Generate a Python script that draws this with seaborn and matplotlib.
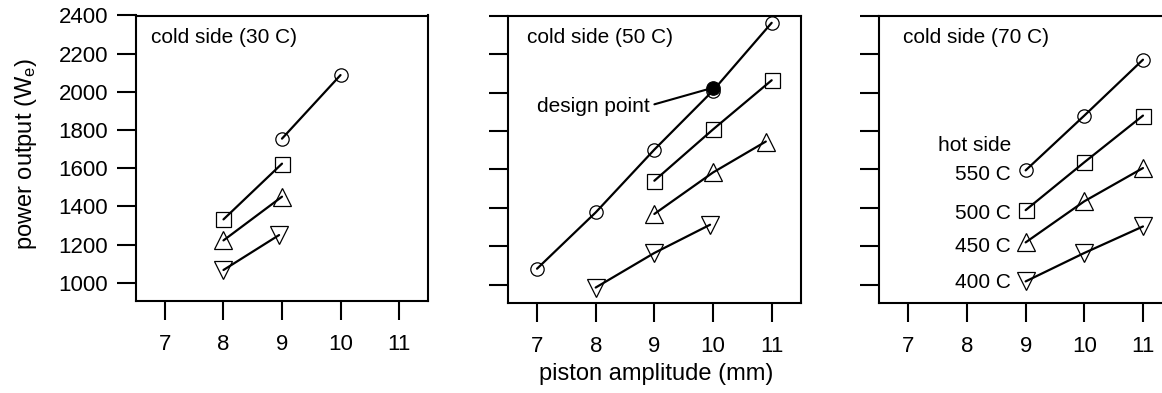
import matplotlib
matplotlib.use("Agg")
import matplotlib.pyplot as plt
import seaborn as sns
import pandas as pd

# ---------------- data ----------------
panel_titles = ["cold side (30 C)", "cold side (50 C)", "cold side (70 C)"]
hot_labels = ["550 C", "500 C", "450 C", "400 C"]
x_ticks = [7, 8, 9, 10, 11]
y_ticks = [1000, 1200, 1400, 1600, 1800, 2000, 2200, 2400]

# cold side 30 C
c30_550_x = [9, 10];        c30_550_y = [1755, 2088]
c30_500_x = [8, 9];         c30_500_y = [1332, 1624]
c30_450_x = [8, 9];         c30_450_y = [1222, 1451]
c30_400_x = [8, 8.95];      c30_400_y = [1067, 1250]

# cold side 50 C
c50_550_x = [7, 8, 9, 10, 11];  c50_550_y = [1083, 1376, 1703, 2010, 2363]
c50_500_x = [9, 10, 11];        c50_500_y = [1541, 1808, 2064]
c50_450_x = [9, 10, 10.9];      c50_450_y = [1368, 1584, 1745]
c50_400_x = [8, 9, 9.95];       c50_400_y = [985, 1165, 1312]
design_x = [10];                design_y = [2025]

# cold side 70 C
c70_550_x = [9, 10, 11];  c70_550_y = [1595, 1880, 2171]
c70_500_x = [9, 10, 11];  c70_500_y = [1388, 1637, 1880]
c70_450_x = [9, 10, 11];  c70_450_y = [1220, 1434, 1607]
c70_400_x = [9, 10, 11];  c70_400_y = [1017, 1165, 1303]

panels = [
    [(c30_550_x, c30_550_y), (c30_500_x, c30_500_y), (c30_450_x, c30_450_y), (c30_400_x, c30_400_y)],
    [(c50_550_x, c50_550_y), (c50_500_x, c50_500_y), (c50_450_x, c50_450_y), (c50_400_x, c50_400_y)],
    [(c70_550_x, c70_550_y), (c70_500_x, c70_500_y), (c70_450_x, c70_450_y), (c70_400_x, c70_400_y)],
]

# ---------------- style ----------------
sns.set_theme(style="ticks")
plt.rcParams["font.family"] = ["Liberation Sans", "DejaVu Sans"]
plt.rcParams["mathtext.fontset"] = "custom"
plt.rcParams["mathtext.rm"] = "Liberation Sans"
plt.rcParams["mathtext.it"] = "Liberation Sans:italic"

marker_styles = ["o", "s", "^", "v"]
marker_sizes = [9.6, 10.8, 12.5, 12.5]

fig = plt.figure(figsize=(11.62, 3.93), dpi=100)
positions = [
    [135.7 / 1162, (393 - 301.3) / 393, 292.6 / 1162, 285.8 / 393],
    [507.7 / 1162, (393 - 303.3) / 393, 293.3 / 1162, 287.6 / 393],
    [879.0 / 1162, (393 - 303.3) / 393, 293.3 / 1162, 287.6 / 393],
]
title_xpos = [0.051, 0.065, 0.081]

axes = []
for i, pos in enumerate(positions):
    ax = fig.add_axes(pos)
    axes.append(ax)
    for j, (xs, ys) in enumerate(panels[i]):
        df = pd.DataFrame({"x": xs, "y": ys})
        sns.lineplot(data=df, x="x", y="y", ax=ax, sort=False, estimator=None,
                     color="black", linewidth=1.6, marker=marker_styles[j],
                     markersize=marker_sizes[j], markerfacecolor="none",
                     markeredgecolor="black", markeredgewidth=0.9, zorder=3)
    ax.set_xlim(6.5, 11.5)
    ax.set_ylim(903, 2400)
    ax.set_xticks(x_ticks)
    ax.set_yticks(y_ticks)
    ax.set_xlabel("")
    ax.set_ylabel("")
    ax.tick_params(axis="both", direction="out", length=13.5, width=1.5,
                   color="black", labelcolor="black", labelsize=16)
    ax.tick_params(axis="x", pad=10)
    ax.tick_params(axis="y", pad=6.5)
    if i > 0:
        ax.tick_params(axis="y", labelleft=False)
    for sp in ax.spines.values():
        sp.set_linewidth(1.5)
        sp.set_color("black")
    ax.text(title_xpos[i], 0.923, panel_titles[i], transform=ax.transAxes,
            ha="left", va="center", fontsize=15, color="black")

# design point
ax2 = axes[1]
dp = pd.DataFrame({"x": design_x, "y": design_y})
sns.scatterplot(data=dp, x="x", y="y", ax=ax2, color="black", s=95,
                edgecolor="black", linewidth=0.8, zorder=4, legend=False)
ax2.set_xlabel("")
ax2.set_ylabel("")
ax2.annotate("design point", xy=(design_x[0], design_y[0]), xytext=(7.0, 1927),
             ha="left", va="center", fontsize=15, color="black",
             arrowprops=dict(arrowstyle="-", color="black", lw=1.5,
                             shrinkA=1, shrinkB=0, relpos=(1.0, 0.55)))

# hot-side labels
ax3 = axes[2]
label_y = [1572, 1373, 1199, 1012]
ax3.text(8.76, 1722, "hot side", ha="right", va="center", fontsize=15, color="black")
for lab, yy in zip(hot_labels, label_y):
    ax3.text(8.74, yy, lab, ha="right", va="center", fontsize=15, color="black")

fig.text(656 / 1162, 1 - 374 / 393, "piston amplitude (mm)", ha="center",
         va="center", fontsize=17, color="black")
fig.text(26 / 1162, 1 - 154 / 393, r"power output (W$_\mathrm{e}$)", ha="center",
         va="center", rotation=90, fontsize=17, color="black")

fig.savefig("out.png", dpi=100, facecolor="white")
